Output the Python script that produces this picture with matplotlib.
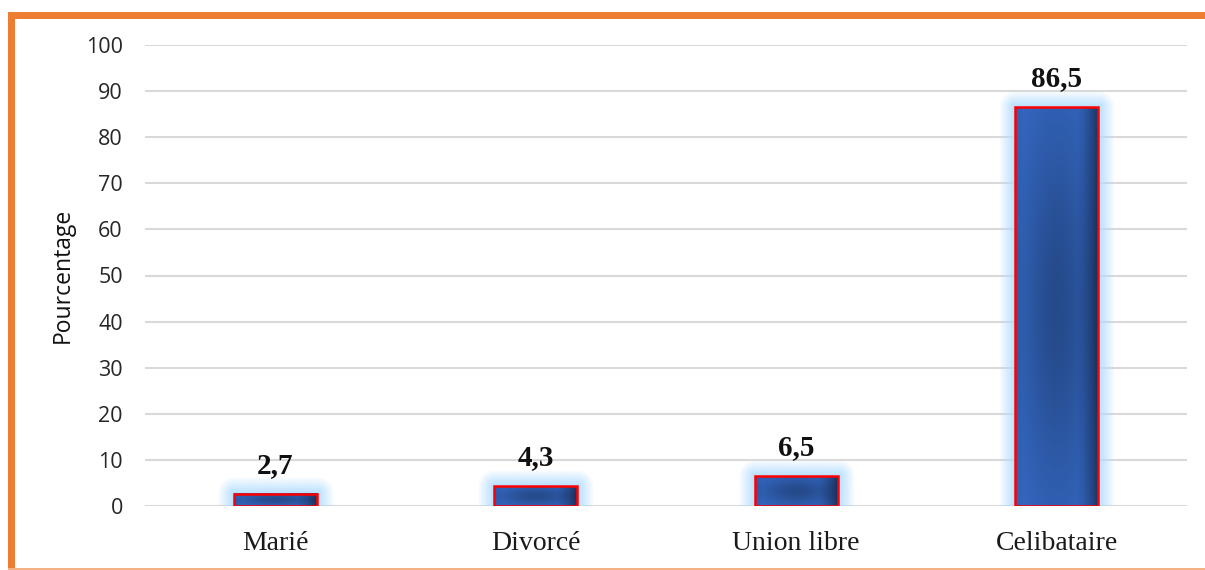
import numpy as np
import matplotlib
matplotlib.use("Agg")
import matplotlib.pyplot as plt
from matplotlib.patches import Rectangle

categories = ["Marié", "Divorcé", "Union libre", "Celibataire"]
values = [2.7, 4.3, 6.5, 86.5]
value_labels = ["2,7", "4,3", "6,5", "86,5"]
yticks = [0, 10, 20, 30, 40, 50, 60, 70, 80, 90, 100]

W, H, DPI = 1205, 570, 100
fig = plt.figure(figsize=(W / DPI, H / DPI), dpi=DPI)
fig.patch.set_facecolor("white")
L, R, T, B = 145, 1187, 45, 506
ax = fig.add_axes([L / W, 1 - B / H, (R - L) / W, (B - T) / H])

xlim = (-0.5, len(categories) - 0.5)
ax.set_xlim(*xlim)
ax.set_ylim(0, 100)
px_x = (R - L) / (xlim[1] - xlim[0])   # px per x unit
px_y = (B - T) / 100.0                  # px per y unit

bw = 0.32
base = np.array([0x36, 0x6b, 0xc8]) / 255.0
glow_rgb = np.array([0xb0, 0xdc, 0xff]) / 255.0
g = 16  # glow px

for i, v in enumerate(values):
    x0, x1 = i - bw / 2, i + bw / 2
    # glow
    wpx = int(round(bw * px_x)) + 2 * g
    hpx = int(round(v * px_y)) + 2 * g
    xx = np.arange(wpx) + 0.5
    yy = np.arange(hpx) + 0.5
    X, Y = np.meshgrid(xx, yy)
    bx0, bx1 = g, wpx - g
    by0, by1 = g, hpx - g
    dx = np.maximum(np.maximum(bx0 - X, X - bx1), 0)
    dy = np.maximum(np.maximum(by0 - Y, Y - by1), 0)
    d = np.sqrt(dx ** 2 + dy ** 2)
    a = np.clip(1 - d / g, 0, 1) ** 0.9 * 0.9
    rgba = np.zeros((hpx, wpx, 4))
    rgba[..., :3] = glow_rgb
    rgba[..., 3] = a
    ax.imshow(rgba, extent=(x0 - g / px_x, x1 + g / px_x, -g / px_y, v + g / px_y),
              origin="lower", aspect="auto", zorder=2, interpolation="bilinear")
    # bar gradient
    n = 200
    u = np.linspace(0, 1, n)
    w = np.linspace(0, 1, n)
    U, V = np.meshgrid(u, w)
    dark = 0.30 * np.exp(-((U - 0.5) ** 2 / 0.2 + (V - 0.5) ** 2 / 0.25))
    dark += 0.50 * np.clip((U - 0.72) / 0.28, 0, 1) ** 1.6
    dark += 0.06 * np.clip((0.1 - U) / 0.1, 0, 1)
    dark = np.clip(dark, 0, 0.7)
    img = base[None, None, :] * (1 - dark[..., None])
    ax.imshow(img, extent=(x0, x1, 0, v), origin="lower", aspect="auto",
              zorder=3, interpolation="bilinear")
    ax.add_patch(Rectangle((x0, 0), bw, v, fill=False, edgecolor="#ff0000",
                           linewidth=1.8, zorder=4))
    ax.text(i, v + 3.2, value_labels[i], ha="center", va="bottom",
            fontsize=21, fontweight="bold", family="Liberation Serif",
            color="#111111", zorder=5)

ax.set_xlim(*xlim)
ax.set_ylim(0, 100)
ax.set_xticks(range(len(categories)))
ax.set_xticklabels(categories, family="Liberation Serif", fontsize=20, color="#1a1a1a")
ax.set_yticks(yticks)
ax.set_yticklabels([str(t) for t in yticks], family="Open Sans", fontsize=15.5, color="#262626")
ax.tick_params(axis="both", length=0)
ax.tick_params(axis="y", pad=16)
ax.tick_params(axis="x", pad=18)
ax.set_ylabel("Pourcentage", family="Open Sans", fontsize=16.5, color="#111111", labelpad=8)
ax.grid(axis="y", color="#d9d9d9", linewidth=1.5, zorder=0)
ax.set_axisbelow(True)
for s in ax.spines.values():
    s.set_visible(False)
ax.set_facecolor("none")

# orange frame
orange = "#ed7d31"
fig.patches.append(Rectangle((8 / W, 0), 7 / W, 1 - 12 / H, transform=fig.transFigure,
                             facecolor=orange, edgecolor="none", zorder=10))
fig.patches.append(Rectangle((8 / W, 1 - 19 / H), 1 - 8 / W, 7 / H, transform=fig.transFigure,
                             facecolor=orange, edgecolor="none", zorder=10))
fig.patches.append(Rectangle((8 / W, 0), 1 - 8 / W, 2 / H, transform=fig.transFigure,
                             facecolor="#f4b183", edgecolor="none", zorder=10))

fig.savefig("out.png", dpi=DPI)
